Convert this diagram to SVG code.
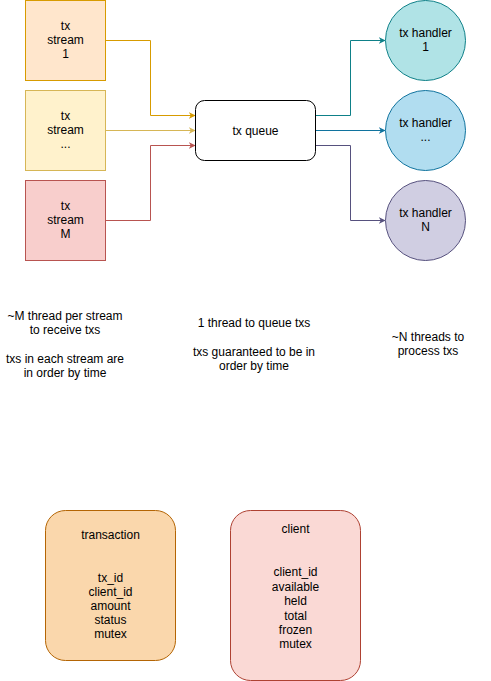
<svg xmlns="http://www.w3.org/2000/svg" width="491" height="681" viewBox="0 0 491 681">
<style>
text{font-family:"Liberation Sans",Arial,sans-serif;font-size:12px;fill:#000;text-anchor:middle}
.e{fill:none;stroke-width:1}
</style>
<defs>
<marker id="a1" viewBox="0 0 10 10" refX="9" refY="5" markerWidth="7" markerHeight="7" orient="auto" markerUnits="userSpaceOnUse"><path d="M0,0 L10,5 L0,10 L3,5z" fill="#d79b00"/></marker>
<marker id="a2" viewBox="0 0 10 10" refX="9" refY="5" markerWidth="7" markerHeight="7" orient="auto" markerUnits="userSpaceOnUse"><path d="M0,0 L10,5 L0,10 L3,5z" fill="#d6b656"/></marker>
<marker id="a3" viewBox="0 0 10 10" refX="9" refY="5" markerWidth="7" markerHeight="7" orient="auto" markerUnits="userSpaceOnUse"><path d="M0,0 L10,5 L0,10 L3,5z" fill="#b85450"/></marker>
<marker id="a4" viewBox="0 0 10 10" refX="9" refY="5" markerWidth="7" markerHeight="7" orient="auto" markerUnits="userSpaceOnUse"><path d="M0,0 L10,5 L0,10 L3,5z" fill="#0e8088"/></marker>
<marker id="a5" viewBox="0 0 10 10" refX="9" refY="5" markerWidth="7" markerHeight="7" orient="auto" markerUnits="userSpaceOnUse"><path d="M0,0 L10,5 L0,10 L3,5z" fill="#10739e"/></marker>
<marker id="a6" viewBox="0 0 10 10" refX="9" refY="5" markerWidth="7" markerHeight="7" orient="auto" markerUnits="userSpaceOnUse"><path d="M0,0 L10,5 L0,10 L3,5z" fill="#56517e"/></marker>
</defs>
<g id="connectors">
<path class="e" stroke="#d79b00" d="M105.5,40.5 H150.5 V115.5 H195" marker-end="url(#a1)"/>
<path class="e" stroke="#d6b656" d="M105.5,130.5 H195" marker-end="url(#a2)"/>
<path class="e" stroke="#b85450" d="M105.5,220.5 H150.5 V145.5 H195" marker-end="url(#a3)"/>
<path class="e" stroke="#0e8088" d="M315.5,115.5 H350.5 V40.5 H385" marker-end="url(#a4)"/>
<path class="e" stroke="#10739e" d="M315.5,130.5 H385" marker-end="url(#a5)"/>
<path class="e" stroke="#56517e" d="M315.5,145.5 H350.5 V220.5 H385" marker-end="url(#a6)"/>
</g>
<g id="stream1">
<rect x="25.5" y="0.5" width="80" height="80" fill="#ffe6cc" stroke="#d79b00"/>
<text x="65.5" y="30">tx</text><text x="65.5" y="44">stream</text><text x="65.5" y="58">1</text>
</g>
<g id="streamDots">
<rect x="25.5" y="90.5" width="80" height="80" fill="#fff2cc" stroke="#d6b656"/>
<text x="65.5" y="120">tx</text><text x="65.5" y="134">stream</text><text x="65.5" y="148">...</text>
</g>
<g id="streamM">
<rect x="25.5" y="180.5" width="80" height="80" fill="#f8cecc" stroke="#b85450"/>
<text x="65.5" y="210">tx</text><text x="65.5" y="224">stream</text><text x="65.5" y="238">M</text>
</g>
<g id="queue">
<rect x="195.5" y="100.5" width="120" height="60" rx="9" fill="#fff" stroke="#000"/>
<text x="255.5" y="134.5">tx queue</text>
</g>
<g id="handler1">
<circle cx="425.5" cy="40.5" r="40" fill="#b0e3e6" stroke="#0e8088"/>
<text x="425.5" y="37">tx handler</text><text x="425.5" y="51">1</text>
</g>
<g id="handlerDots">
<circle cx="425.5" cy="130.5" r="40" fill="#b1ddf0" stroke="#10739e"/>
<text x="425.5" y="127">tx handler</text><text x="425.5" y="141">...</text>
</g>
<g id="handlerN">
<circle cx="425.5" cy="220.5" r="40" fill="#d0cee2" stroke="#56517e"/>
<text x="425.5" y="217">tx handler</text><text x="425.5" y="231">N</text>
</g>
<g id="note1">
<text x="65" y="320">~M thread per stream</text><text x="65" y="334">to receive txs</text>
<text x="65" y="363">txs in each stream are</text><text x="65" y="377">in order by time</text>
</g>
<g id="note2">
<text x="254" y="327">1 thread to queue txs</text>
<text x="254" y="356">txs guaranteed to be in</text><text x="254" y="370">order by time</text>
</g>
<g id="note3">
<text x="428" y="341">~N threads to</text><text x="428" y="355">process txs</text>
</g>
<g id="transaction">
<rect x="45.5" y="510.5" width="130" height="150" rx="20" fill="#fad7ac" stroke="#b46504"/>
<text x="110.5" y="539">transaction</text>
<text x="110.5" y="582">tx_id</text><text x="110.5" y="596">client_id</text><text x="110.5" y="610">amount</text><text x="110.5" y="624">status</text><text x="110.5" y="638">mutex</text>
</g>
<g id="client">
<rect x="230.5" y="510.5" width="130" height="170" rx="20" fill="#fad9d5" stroke="#ae4132"/>
<text x="295.5" y="533">client</text>
<text x="295.5" y="576">client_id</text><text x="295.5" y="591">available</text><text x="295.5" y="605">held</text><text x="295.5" y="620">total</text><text x="295.5" y="634">frozen</text><text x="295.5" y="648">mutex</text>
</g>
</svg>
